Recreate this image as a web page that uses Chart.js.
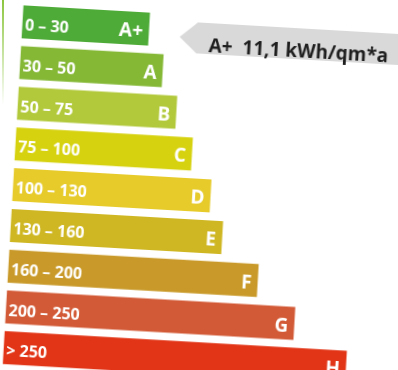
<!DOCTYPE html>
<html><head><meta charset="utf-8">
<script src="https://cdn.jsdelivr.net/npm/chart.js@4"></script>
<style>
html,body{margin:0;padding:0;background:#fff;overflow:hidden;width:398px;height:370px;}
#edge{position:absolute;left:2px;top:0;width:2px;height:105px;background:linear-gradient(#8cc63f,rgba(140,198,63,0));}
#tilt{position:absolute;left:0;top:0;width:420px;height:372px;transform:rotate(3.3deg);transform-origin:0 0;}
</style></head><body>
<div id="edge"></div>
<div id="tilt"><canvas id="c" width="420" height="372"></canvas></div>
<script>
// Energy efficiency classes, their consumption ranges (kWh/qm*a) and bar lengths
const classes = ['A+', 'A', 'B', 'C', 'D', 'E', 'F', 'G', 'H'];
const ranges = ['0 – 30', '30 – 50', '50 – 75', '75 – 100', '100 – 130', '130 – 160', '160 – 200', '200 – 250', '> 250'];
const barLengths = [127, 143, 159, 177, 198, 212, 250, 289, 343];
const classColors = ['#4fab38', '#84b835', '#b1c93a', '#d6d20f', '#e6cb2b', '#cfb723', '#c99a29', '#d35a36', '#e23416'];

// Rating of the building
const ratingClass = 'A+';
const ratingValue = '11,1';
const ratingUnit = 'kWh/qm*a';

const FONT = '"Open Sans", sans-serif';

// Range on the left, class letter on the right of each bar
const classLabels = {
  id: 'classLabels',
  afterDatasetsDraw(chart) {
    const ctx = chart.ctx;
    const meta = chart.getDatasetMeta(0);
    ctx.save();
    ctx.fillStyle = '#ffffff';
    ctx.textBaseline = 'alphabetic';
    meta.data.forEach((bar, i) => {
      ctx.font = '700 16px ' + FONT;
      ctx.textAlign = 'left';
      ctx.fillText(ranges[i], bar.base + 3, bar.y + 8.5);
      ctx.font = '700 19px ' + FONT;
      ctx.textAlign = 'right';
      ctx.fillText(classes[i], bar.x - 6, bar.y + 8.5);
    });
    ctx.restore();
  }
};

// Grey arrow pointing at the rated class
const ratingArrow = {
  id: 'ratingArrow',
  afterDatasetsDraw(chart) {
    const idx = classes.indexOf(ratingClass);
    const bar = chart.getDatasetMeta(0).data[idx];
    const ctx = chart.ctx;
    const tipX = bar.x + 31;
    const cy = bar.y + 6;
    const half = 15.5;
    const bodyX = tipX + 17.5;
    ctx.save();
    ctx.fillStyle = '#d9d9d9';
    ctx.beginPath();
    ctx.moveTo(tipX, cy);
    ctx.lineTo(bodyX, cy - half);
    ctx.lineTo(chart.width + 5, cy - half);
    ctx.lineTo(chart.width + 5, cy + half);
    ctx.lineTo(bodyX, cy + half);
    ctx.closePath();
    ctx.fill();
    ctx.fillStyle = '#1e1e1e';
    ctx.font = '700 19px ' + FONT;
    ctx.textAlign = 'left';
    ctx.textBaseline = 'alphabetic';
    ctx.fillText(ratingClass + '  ' + ratingValue + ' ' + ratingUnit, bodyX + 12, bar.y + 19.5);
    ctx.restore();
  }
};

new Chart(document.getElementById('c'), {
  type: 'bar',
  data: {
    labels: classes,
    datasets: [{
      data: barLengths,
      backgroundColor: classColors,
      borderWidth: 0,
      barPercentage: 0.81,
      categoryPercentage: 1
    }]
  },
  options: {
    indexAxis: 'y',
    responsive: false,
    animation: false,
    events: [],
    layout: { padding: { left: 23.5, top: 0, right: 0, bottom: 4.8 } },
    scales: {
      x: { display: false, min: 0, max: 396.5 },
      y: { display: false }
    },
    plugins: { legend: { display: false }, tooltip: { enabled: false } }
  },
  plugins: [classLabels, ratingArrow]
});
</script>
</body></html>
